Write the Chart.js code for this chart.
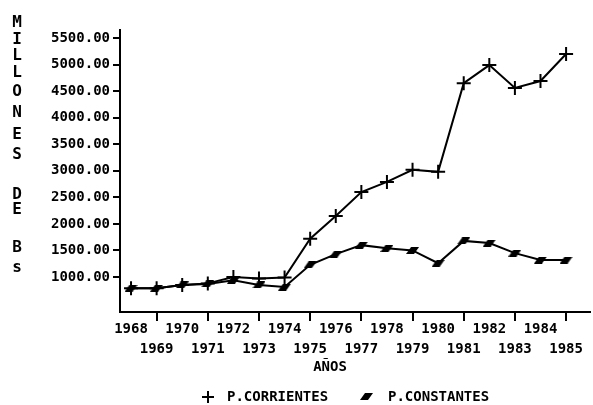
<!DOCTYPE html>
<html>
<head>
<meta charset="utf-8">
<script src="https://cdn.jsdelivr.net/npm/chart.js@4.4.1/dist/chart.umd.min.js"></script>
<style>
  html, body { margin: 0; padding: 0; background: #fff; }
</style>
</head>
<body>
<canvas id="ctx" width="593" height="405"></canvas>
<script>
// datos (millones de Bs)
const years = [1968, 1969, 1970, 1971, 1972, 1973, 1974, 1975, 1976, 1977, 1978, 1979, 1980, 1981, 1982, 1983, 1984, 1985];
const corrientes = [790, 790, 850, 880, 1000, 970, 990, 1720, 2150, 2600, 2790, 3020, 2980, 4650, 4990, 4560, 4690, 5200];
const constantes = [790, 790, 850, 870, 940, 850, 810, 1230, 1430, 1600, 1540, 1500, 1260, 1680, 1640, 1450, 1320, 1320];
const yTicks = [1000, 1500, 2000, 2500, 3000, 3500, 4000, 4500, 5000, 5500];
const yTitle = "MILLONES DE Bs";
const xTitle = "AÑOS";

const FONT = "'DejaVu Sans Mono', 'Liberation Mono', monospace";

// marcador inclinado para P.CONSTANTES
const marca = document.createElement("canvas");
marca.width = 13;
marca.height = 7;
const m = marca.getContext("2d");
m.fillStyle = "#000";
m.beginPath();
m.moveTo(0, 7);
m.lineTo(5, 0);
m.lineTo(13, 0);
m.lineTo(8, 7);
m.closePath();
m.fill();

// titulos y leyenda dibujados a mano
const textos = {
  id: "textos",
  afterDraw(chart) {
    const c = chart.ctx;
    const area = chart.chartArea;
    c.save();
    c.strokeStyle = "#000";
    c.lineWidth = 2;
    // el eje x llega casi al borde
    c.beginPath();
    c.moveTo(area.right, area.bottom);
    c.lineTo(591, area.bottom);
    c.stroke();

    c.fillStyle = "#000";
    c.font = "bold 16px " + FONT;
    c.textAlign = "center";
    c.textBaseline = "middle";

    // titulo vertical, letra por letra
    const letras = yTitle.replace(/ /g, "").split("");
    const ys = [23, 40, 56, 73, 92, 113, 135, 155, 195, 210, 248, 268];
    letras.forEach((l, i) => c.fillText(l, 17, ys[i]));

    c.font = "bold 14px " + FONT;
    c.fillText(xTitle, 330, 367);

    // leyenda
    c.textAlign = "left";
    c.fillText(chart.data.datasets[0].label, 227, 397);
    c.fillText(chart.data.datasets[1].label, 388, 397);
    c.beginPath();
    c.moveTo(202, 397); c.lineTo(214, 397);
    c.moveTo(208, 391); c.lineTo(208, 403);
    c.stroke();
    c.drawImage(marca, 360, 393);
    c.restore();
  }
};

const pintarGrafica = () => {
  new Chart(document.getElementById("ctx"), {
    type: "line",
    data: {
      datasets: [
        {
          label: "P.CORRIENTES",
          data: years.map((y, i) => ({ x: y, y: corrientes[i] })),
          borderColor: "#000",
          borderWidth: 2,
          pointStyle: "cross",
          pointRadius: 7,
          pointBorderWidth: 2,
          pointBorderColor: "#000",
          tension: 0,
        },
        {
          label: "P.CONSTANTES",
          data: years.map((y, i) => ({ x: y, y: constantes[i] })),
          borderColor: "#000",
          borderWidth: 2,
          pointStyle: marca,
          pointRadius: 6,
          tension: 0,
        },
      ],
    },
    options: {
      responsive: false,
      devicePixelRatio: 1,
      animation: false,
      layout: { padding: { top: 30, right: 3, left: 0, bottom: 0 } },
      plugins: { legend: { display: false }, tooltip: { enabled: false } },
      scales: {
        x: {
          type: "linear",
          min: 1967.569,
          max: 1985.70,
          afterBuildTicks: (s) => { s.ticks = years.map(v => ({ value: v })); },
          afterFit: (s) => { s.height = 93; },
          ticks: {
            autoSkip: false,
            maxRotation: 0,
            minRotation: 0,
            padding: -2,
            color: "#000",
            font: { family: FONT, size: 14, weight: "bold", lineHeight: 1.45 },
            callback: (v) => (v % 2 === 0 ? [String(v), ""] : ["", String(v)]),
          },
          grid: {
            drawOnChartArea: false,
            tickLength: 9,
            lineWidth: 2,
            tickColor: (ctx) => (ctx.tick && ctx.tick.value % 2 === 1 ? "#000" : "rgba(0,0,0,0)"),
          },
          border: { color: "#000", width: 2 },
        },
        y: {
          min: 341,
          max: 5651,
          afterBuildTicks: (s) => { s.ticks = yTicks.map(v => ({ value: v })); },
          afterFit: (s) => { s.width = 120; },
          ticks: {
            padding: 3,
            color: "#000",
            font: { family: FONT, size: 14, weight: "bold" },
            callback: (v) => v.toFixed(2),
          },
          grid: { drawOnChartArea: false, tickLength: 7, lineWidth: 2, tickColor: "#000" },
          border: { color: "#000", width: 2 },
        },
      },
    },
    plugins: [textos],
  });
};

window.addEventListener("load", pintarGrafica);
</script>
</body>
</html>
